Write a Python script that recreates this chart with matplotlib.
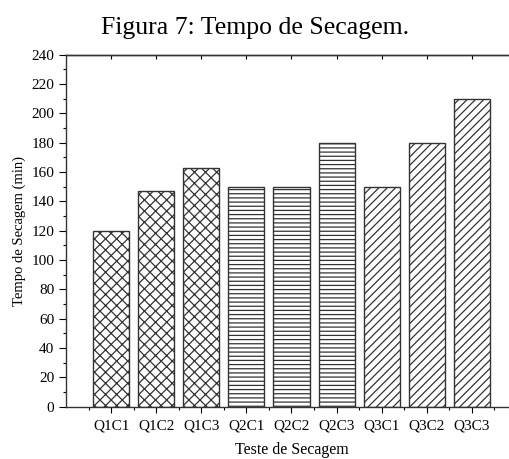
import numpy as np
import matplotlib
matplotlib.use("Agg")
from matplotlib import pyplot as plt
from matplotlib.ticker import MultipleLocator

# drying-test data
tests = ["Q1C1", "Q1C2", "Q1C3", "Q2C1", "Q2C2", "Q2C3", "Q3C1", "Q3C2", "Q3C3"]
times = [120, 147, 163, 150, 150, 180, 150, 180, 210]
hatches = ["xxx"] * 3 + ["----"] * 3 + ["////"] * 3

plt.rcParams["font.family"] = ["Liberation Serif", "DejaVu Serif"]
plt.rcParams["hatch.linewidth"] = 0.9

fig = plt.figure(figsize=(5.1, 4.59), dpi=100)
ax = fig.add_axes([0.1294, 0.114, 0.8843, 0.7669])

pos = np.arange(1, len(tests) + 1)
for p, t, h in zip(pos, times, hatches):
    ax.bar(p, t, width=0.8, color="white", edgecolor="#333333",
           linewidth=1.0, hatch=h)

ax.set_xlim(0, 10)
ax.set_ylim(0, 240)
ax.set_xticks(pos)
ax.set_xticklabels(tests, fontsize=11)
ax.set_xticks(np.arange(0.5, 10, 1), minor=True)
ax.yaxis.set_major_locator(MultipleLocator(20))
ax.yaxis.set_minor_locator(MultipleLocator(10))
ax.tick_params(axis="y", labelsize=11)

ax.tick_params(axis="x", which="major", direction="out", length=4, width=0.8, pad=5)
ax.tick_params(axis="x", which="minor", direction="out", length=2.5, width=0.8)
ax.tick_params(axis="y", which="major", direction="out", length=5, width=0.8)
ax.tick_params(axis="y", which="minor", direction="out", length=2.5, width=0.8)

# small inward marks on the top frame
top = ax.secondary_xaxis("top")
top.set_xticks(pos)
top.tick_params(direction="in", length=3, width=0.8, labeltop=False)
top.spines["top"].set_linewidth(1.0)
top.spines["top"].set_color("#333333")

for s in ax.spines.values():
    s.set_linewidth(1.0)
    s.set_color("#333333")

ax.set_xlabel("Teste de Secagem", fontsize=11.5, labelpad=7)
ax.set_ylabel("Tempo de Secagem (min)", fontsize=10.5, labelpad=4)
fig.text(0.5, 0.926, "Figura 7: Tempo de Secagem.", ha="center", va="baseline",
         fontsize=18.5)

plt.savefig("out.png", dpi=100)
plt.close()
